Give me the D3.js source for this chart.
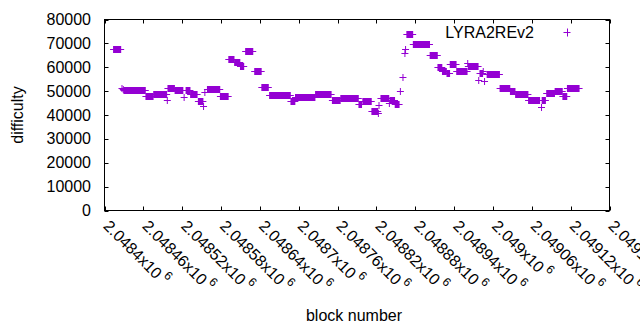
<!DOCTYPE html>
<html lang="en">
<head>
<meta charset="UTF-8">
<title>LYRA2REv2 difficulty</title>
<style>
  html, body { margin: 0; padding: 0; background: #fff; }
  svg { display: block; }
  text { font-family: "Liberation Sans", Arial, sans-serif; font-size: 16px; fill: #000; }
</style>
</head>
<body>
<svg id="chart" width="640" height="330"></svg>
<script src="https://d3js.org/d3.v7.min.js"></script>
<script>
// runs of consecutive blocks that share one difficulty value (single blocks have start == end)
const blockStart = [
  2048414, 2048427, 2048429, 2048430, 2048464, 2048476, 2048497, 2048498, 2048509, 2048523,
  2048526, 2048533, 2048545, 2048553, 2048555, 2048559, 2048579, 2048592, 2048601, 2048610,
  2048618, 2048632, 2048643, 2048655, 2048688, 2048695, 2048726, 2048752, 2048765, 2048793,
  2048799, 2048813, 2048823, 2048824, 2048827, 2048840, 2048841, 2048849, 2048857, 2048861,
  2048864, 2048865, 2048867, 2048877, 2048903, 2048915, 2048922, 2048929, 2048934, 2048944,
  2048961, 2048962, 2048978, 2048980, 2048985, 2048987, 2048991, 2049011, 2049027, 2049035,
  2049055, 2049075, 2049076, 2049083, 2049096, 2049108, 2049115
];
const blockEnd = [
  2048425, 2048427, 2048429, 2048463, 2048475, 2048496, 2048497, 2048508, 2048521, 2048523,
  2048532, 2048543, 2048552, 2048553, 2048555, 2048578, 2048591, 2048600, 2048609, 2048615,
  2048629, 2048642, 2048653, 2048687, 2048694, 2048725, 2048750, 2048764, 2048792, 2048797,
  2048812, 2048822, 2048823, 2048824, 2048839, 2048840, 2048848, 2048855, 2048857, 2048861,
  2048864, 2048865, 2048876, 2048902, 2048914, 2048921, 2048928, 2048933, 2048943, 2048960,
  2048961, 2048977, 2048978, 2048984, 2048985, 2048987, 2049010, 2049026, 2049034, 2049054,
  2049072, 2049075, 2049081, 2049095, 2049107, 2049114, 2049133
];
const difficulty = [
  67500, 51500, 50800, 50400, 47900, 48900, 46300, 51200, 50600, 47500,
  50300, 48600, 45900, 43800, 49800, 50700, 47900, 63300, 62000, 60500,
  66700, 58300, 51700, 48200, 45700, 47450, 48700, 46200, 47000, 44800,
  45900, 41800, 41000, 44200, 47000, 44900, 46300, 44600, 50000, 55800,
  65800, 67500, 73800, 69600, 65000, 59900, 58500, 57500, 61500, 58300,
  61600, 60400, 54500, 57600, 58500, 54400, 57000, 51500, 50200, 48700,
  46200, 43200, 46300, 49200, 50000, 48000, 51200
];

const xTicks = [2048400, 2048460, 2048520, 2048580, 2048640, 2048700, 2048760,
                2048820, 2048880, 2048940, 2049000, 2049060, 2049120, 2049180];
const xTickLabels = ["2.0484", "2.04846", "2.04852", "2.04858", "2.04864", "2.0487", "2.04876",
                     "2.04882", "2.04888", "2.04894", "2.049", "2.04906", "2.04912", "2.04918"];
const yTicks = [0, 10000, 20000, 30000, 40000, 50000, 60000, 70000, 80000];
const seriesName = "LYRA2REv2";

const color = "#9400d3";
const plotL = 104.5, plotR = 609.5, plotT = 19.5, plotB = 210.5;
const half = 3.5; // half size of the "+" marker

const svg = d3.select("#chart");
const x = d3.scaleLinear().domain([2048400, 2049180]).range([plotL, plotR]);
const y = d3.scaleLinear().domain([0, 80000]).range([plotB, plotT]);

const runs = blockStart.map((s, i) => ({ s: s, e: blockEnd[i], d: difficulty[i] }));

// points
const pts = svg.append("g");
runs.forEach(r => {
  const yy = Math.round(y(r.d)) + 0.5;
  pts.append("line")
    .attr("x1", x(r.s) - half).attr("x2", x(r.e) + half)
    .attr("y1", yy).attr("y2", yy)
    .attr("stroke", color).attr("stroke-width", 1);
  pts.append("rect")
    .attr("x", x(r.s) - 0.5).attr("width", x(r.e) - x(r.s) + 1)
    .attr("y", yy - half).attr("height", half * 2)
    .attr("fill", color);
});

// frame and ticks (mirrored on all sides, pointing inward)
const ax = svg.append("g").attr("stroke", "#000").attr("stroke-width", 1);
ax.append("rect")
  .attr("x", plotL).attr("y", plotT)
  .attr("width", plotR - plotL).attr("height", plotB - plotT)
  .attr("fill", "none");
yTicks.forEach(t => {
  const yy = Math.round(y(t)) + 0.5;
  ax.append("line").attr("x1", plotL).attr("x2", plotL + 4).attr("y1", yy).attr("y2", yy);
  ax.append("line").attr("x1", plotR).attr("x2", plotR - 4).attr("y1", yy).attr("y2", yy);
});
xTicks.forEach(t => {
  const xx = Math.round(x(t)) + 0.5;
  ax.append("line").attr("x1", xx).attr("x2", xx).attr("y1", plotB).attr("y2", plotB - 4);
  ax.append("line").attr("x1", xx).attr("x2", xx).attr("y1", plotT).attr("y2", plotT + 4);
});

// y tick labels
svg.append("g").selectAll("text").data(yTicks).join("text")
  .attr("x", 91).attr("y", d => y(d))
  .attr("dy", "0.35em")
  .attr("text-anchor", "end")
  .text(d => d);

// x tick labels, rotated
const xl = svg.append("g").selectAll("text").data(xTicks).join("text")
  .attr("transform", d => `translate(${x(d) + 2},${223}) rotate(45)`)
  .attr("dy", "0.35em");
xl.append("tspan").text((d, i) => xTickLabels[i] + "x10");
xl.append("tspan").attr("dx", 3).attr("dy", -8).style("font-size", "12px").text("6");

// axis titles
svg.append("text")
  .attr("transform", "translate(23,115) rotate(-90)")
  .attr("text-anchor", "middle")
  .text("difficulty");
svg.append("text")
  .attr("x", 354).attr("y", 321)
  .attr("text-anchor", "middle")
  .text("block number");

// legend
svg.append("text")
  .attr("x", 534).attr("y", 32).attr("dy", "0.35em")
  .attr("text-anchor", "end")
  .text(seriesName);
svg.append("path")
  .attr("d", `M${567 - half},32.5H${567 + half}M567.5,${32 - half}V${33 + half}`)
  .attr("stroke", color).attr("stroke-width", 1).attr("fill", "none");
</script>
</body>
</html>
